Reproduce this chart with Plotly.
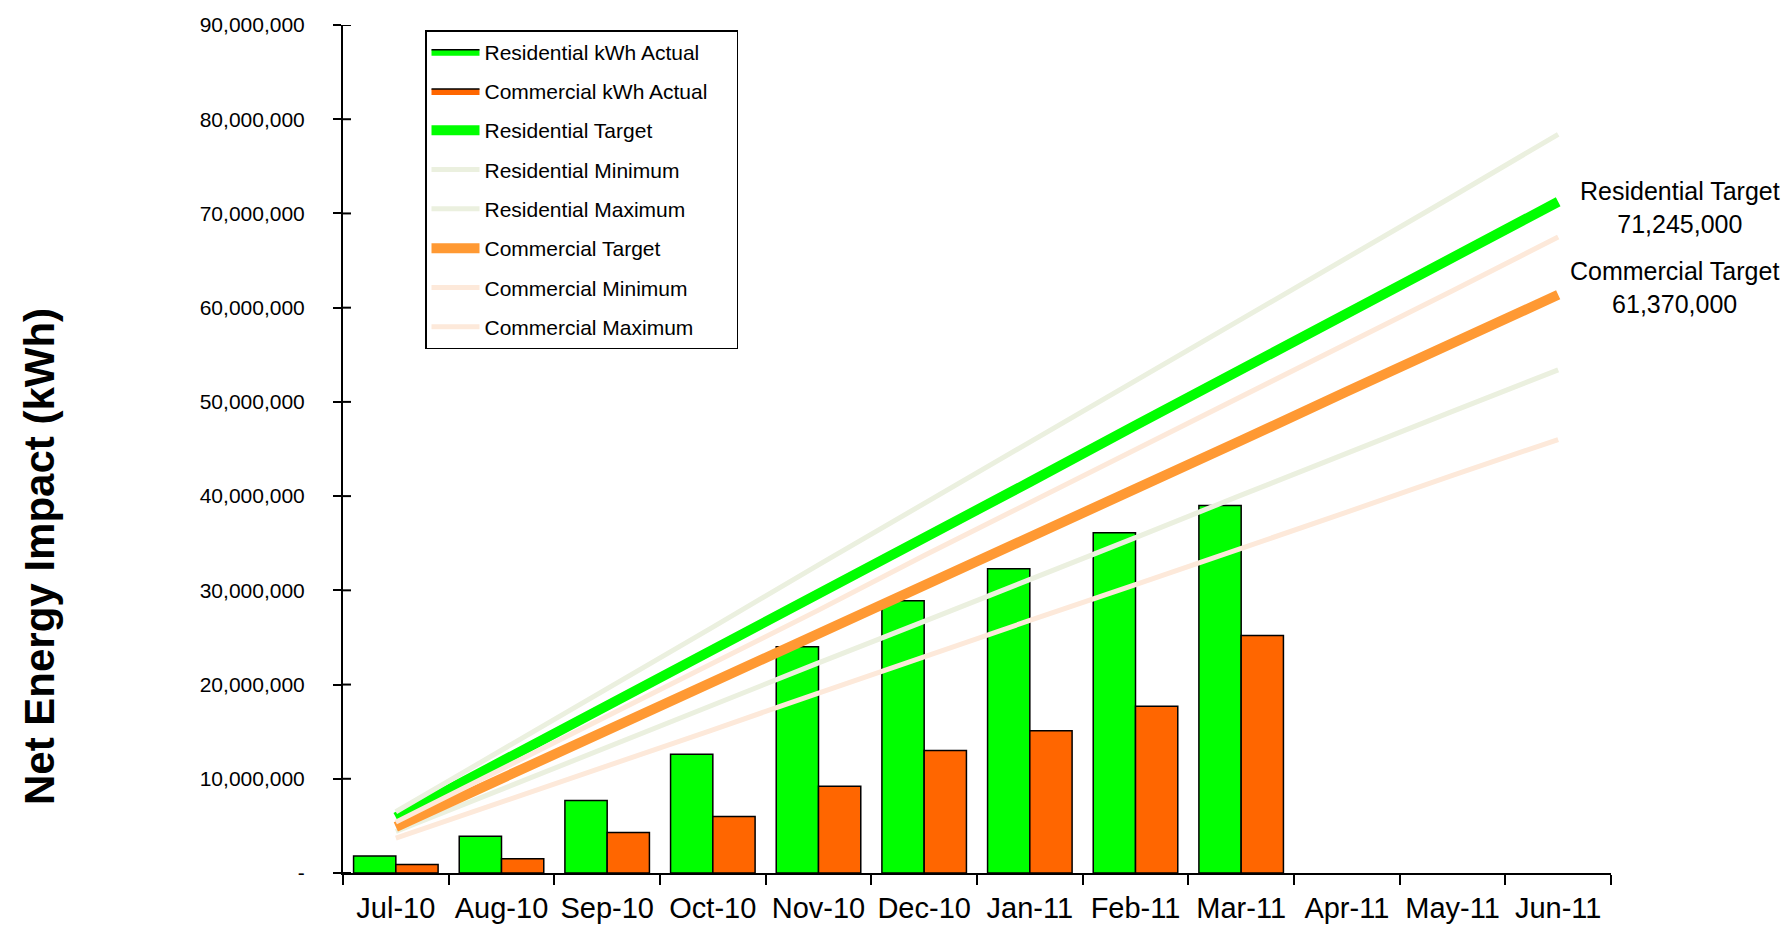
import plotly.graph_objects as go

months = ["Jul-10", "Aug-10", "Sep-10", "Oct-10", "Nov-10", "Dec-10",
          "Jan-11", "Feb-11", "Mar-11", "Apr-11", "May-11", "Jun-11"]
actual_months = months[:9]

res_actual = [1800000, 3900000, 7700000, 12600000, 24000000, 28900000,
              32300000, 36100000, 39000000]
com_actual = [900000, 1500000, 4300000, 6000000, 9200000, 13000000,
              15100000, 17700000, 25200000]

res_target = [5900000, 11800000, 17800000, 23700000, 29700000, 35600000,
              41500000, 47500000, 53400000, 59400000, 65300000, 71245000]
res_min = [4400000, 8900000, 13400000, 17800000, 22300000, 26700000,
           31100000, 35600000, 40100000, 44600000, 49000000, 53400000]
res_max = [6500000, 13000000, 19600000, 26100000, 32700000, 39200000,
           45700000, 52300000, 58700000, 65300000, 71800000, 78400000]
com_target = [4900000, 10000000, 15200000, 20300000, 25400000, 30600000,
              35700000, 40800000, 45900000, 51100000, 56200000, 61370000]
com_min = [3700000, 7500000, 11400000, 15200000, 19100000, 23000000,
           26800000, 30600000, 34400000, 38300000, 42200000, 46000000]
com_max = [5400000, 11000000, 16700000, 22300000, 27900000, 33700000,
           39300000, 44900000, 50500000, 56200000, 61800000, 67500000]

y_tickvals = [0, 10000000, 20000000, 30000000, 40000000, 50000000,
              60000000, 70000000, 80000000, 90000000]
y_ticktext = ["-", "10,000,000", "20,000,000", "30,000,000", "40,000,000",
              "50,000,000", "60,000,000", "70,000,000", "80,000,000",
              "90,000,000"]

FONT = "Liberation Sans, Arial, Helvetica, sans-serif"
W, H = 1792, 928
L, R, T, B = 335, 189, 17, 63
PW, PH = W - L - R, H - T - B
PAD = "\u00a0" * 4


def px_x(px):
    return (px - L) / PW


def px_y(py):
    return (H - B - py) / PH


fig = go.Figure()

bar_specs = [
    ("Residential kWh Actual", res_actual, "#00FF00", "g1"),
    ("Commercial kWh Actual", com_actual, "#FF6600", "g2"),
]
# legend entries for the bars (wide filled swatch with black outline)
for name, vals, col, grp in bar_specs:
    fig.add_trace(go.Scatter(x=[None], y=[None], mode="lines", fill="toself",
                             fillcolor=col, line=dict(color="black", width=1.5),
                             name=name + PAD, legendgroup=grp,
                             hoverinfo="skip"))
for name, vals, col, grp in bar_specs:
    fig.add_trace(go.Bar(x=actual_months, y=vals, name=name,
                         marker=dict(color=col, line=dict(color="black", width=1.5)),
                         legendgroup=grp, showlegend=False))

line_specs = [
    ("Residential Target", res_target, "#00FF00", 10),
    ("Residential Minimum", res_min, "#EBF0DF", 5),
    ("Residential Maximum", res_max, "#EBF0DF", 5),
    ("Commercial Target", com_target, "#FF9933", 10),
    ("Commercial Minimum", com_min, "#FDE9DA", 5),
    ("Commercial Maximum", com_max, "#FDE9DA", 5),
]
for i, (name, vals, col, w) in enumerate(line_specs):
    fig.add_trace(go.Scatter(x=months, y=vals, name=name + PAD, mode="lines",
                             line=dict(color=col, width=w),
                             legendgroup=f"l{i}"))

# inside half of the crossing y tick marks
for tv in y_tickvals:
    fig.add_shape(type="line", xref="paper", yref="y",
                  x0=0, x1=8 / PW, y0=tv, y1=tv,
                  line=dict(color="black", width=2), layer="above")

fig.update_layout(
    width=W, height=H,
    margin=dict(l=L, r=R, t=T, b=B, autoexpand=False),
    paper_bgcolor="white", plot_bgcolor="white",
    font=dict(family=FONT, color="black"),
    barmode="group", bargap=0.2, bargroupgap=0,
    showlegend=True,
    legend=dict(x=px_x(417), y=px_y(22), xanchor="left", yanchor="top",
                bgcolor="white", bordercolor="black", borderwidth=1.5,
                font=dict(size=21, family=FONT), tracegroupgap=9,
                itemwidth=48),
    xaxis=dict(type="category", categoryorder="array", categoryarray=months,
               range=[-0.5, 11.5], automargin=False, tickangle=0,
               showline=True, linecolor="black", linewidth=2,
               ticks="outside", ticklen=10, tickwidth=2, tickcolor="black",
               tickson="boundaries", showgrid=False, zeroline=False,
               tickfont=dict(size=29, family=FONT), ticklabelstandoff=8),
    yaxis=dict(range=[0, 90000000], tickvals=y_tickvals, ticktext=y_ticktext,
               automargin=False,
               showline=True, linecolor="black", linewidth=2,
               ticks="outside", ticklen=8, tickwidth=2, tickcolor="black",
               showgrid=False, zeroline=False,
               tickfont=dict(size=21, family=FONT), ticklabelstandoff=24),
)

fig.add_annotation(text="<b>Net Energy Impact (kWh)</b>", textangle=-90,
                   xref="paper", yref="paper", x=px_x(31), y=px_y(549),
                   xanchor="center", yanchor="middle", showarrow=False,
                   font=dict(size=42, family=FONT))

fig.add_annotation(text=f"Residential Target<br>{res_target[-1]:,}",
                   xref="paper", yref="paper", x=px_x(1672), y=px_y(199),
                   xanchor="center", yanchor="middle", align="center",
                   showarrow=False, font=dict(size=25, family=FONT))
fig.add_annotation(text=f"Commercial Target<br>{com_target[-1]:,}",
                   xref="paper", yref="paper", x=px_x(1667), y=px_y(279),
                   xanchor="center", yanchor="middle", align="center",
                   showarrow=False, font=dict(size=25, family=FONT))

fig.write_html("out.html")
